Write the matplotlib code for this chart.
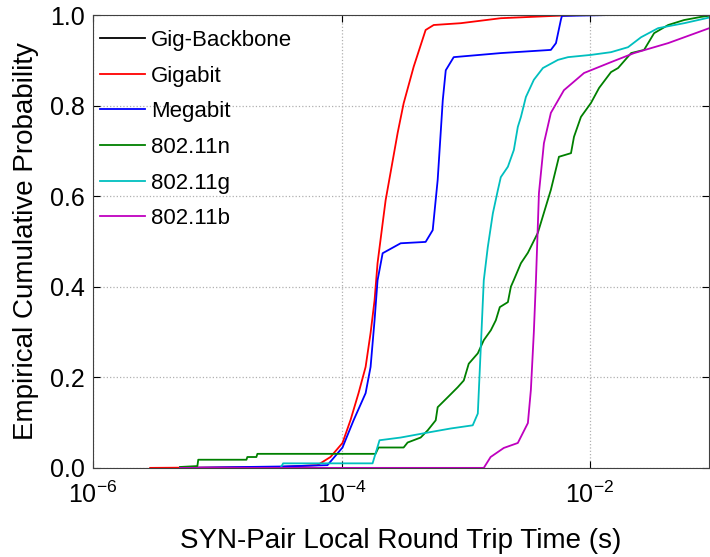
import matplotlib.pyplot as plt
import numpy as np

plt.rcParams['font.family'] = ['Liberation Sans', 'DejaVu Sans']
plt.rcParams['mathtext.fontset'] = 'custom'
plt.rcParams['mathtext.rm'] = 'Liberation Sans'
plt.rcParams['mathtext.it'] = 'Liberation Sans'

# data: log10 of RTT (s) and cumulative probability
gig_bb_x = []
gig_bb_y = []

gigabit_x = [-5.54, -4.5, -4.194, -4.089, -3.992, -3.927, -3.863, -3.806, -3.766, -3.734,
             -3.710, -3.669, -3.645, -3.548, -3.500, -3.419, -3.323, -3.258, -3.04,
             -2.718, -2.3, -2.1]
gigabit_y = [0.0, 0.002, 0.006, 0.024, 0.055, 0.106, 0.165, 0.223, 0.298, 0.37,
             0.452, 0.54, 0.591, 0.74, 0.805, 0.886, 0.967, 0.978, 0.982,
             0.993, 0.998, 1.0]

megabit_x = [-5.30, -4.5, -4.113, -3.992, -3.903, -3.806, -3.766, -3.734, -3.71, -3.669,
             -3.524, -3.323, -3.266, -3.226, -3.185, -3.161, -3.097, -2.718, -2.315,
             -2.274, -2.234, -2.226, -1.85]
megabit_y = [0.0, 0.003, 0.006, 0.045, 0.105, 0.165, 0.223, 0.326, 0.414, 0.474,
             0.496, 0.499, 0.525, 0.636, 0.812, 0.878, 0.907, 0.916, 0.923,
             0.938, 0.99, 0.998, 1.0]

n_x = [-5.30, -5.16, -5.153, -4.765, -4.758, -4.685, -4.677, -3.726, -3.702, -3.50,
       -3.468, -3.363, -3.306, -3.242, -3.226, -3.145, -3.065, -3.016, -2.976, -2.903,
       -2.855, -2.798, -2.758, -2.726, -2.661, -2.637, -2.613, -2.556, -2.50, -2.42,
       -2.315, -2.25, -2.153, -2.129, -2.073, -1.992, -1.927, -1.831, -1.774, -1.669,
       -1.565, -1.484, -1.371, -1.242, -1.105, -1.0]
n_y = [0.002, 0.004, 0.018, 0.018, 0.024, 0.024, 0.031, 0.031, 0.045, 0.045,
       0.056, 0.067, 0.083, 0.105, 0.134, 0.156, 0.178, 0.193, 0.23, 0.253,
       0.282, 0.304, 0.326, 0.355, 0.366, 0.40, 0.415, 0.452, 0.475, 0.519,
       0.614, 0.687, 0.695, 0.731, 0.775, 0.806, 0.839, 0.874, 0.883, 0.916,
       0.923, 0.96, 0.978, 0.989, 0.996, 1.0]

g_x = [-4.49, -4.47, -3.75, -3.694, -3.524, -3.306, -3.121, -2.944, -2.903, -2.879,
       -2.855, -2.823, -2.782, -2.742, -2.718, -2.661, -2.613, -2.581, -2.556, -2.516,
       -2.452, -2.379, -2.258, -2.177, -1.992, -1.831, -1.694, -1.589, -1.452, -1.242,
       -1.0]
g_y = [0.0, 0.01, 0.01, 0.061, 0.067, 0.078, 0.087, 0.094, 0.12, 0.266,
       0.414, 0.487, 0.562, 0.613, 0.642, 0.665, 0.702, 0.753, 0.775, 0.819,
       0.857, 0.883, 0.901, 0.907, 0.912, 0.918, 0.929, 0.951, 0.971, 0.982,
       0.997]

b_x = [-5.3, -2.855, -2.80, -2.694, -2.581, -2.50, -2.476, -2.452, -2.435, -2.411,
       -2.371, -2.315, -2.21, -2.048, -1.831, -1.645, -1.371, -1.0]
b_y = [0.0, 0.0, 0.024, 0.044, 0.055, 0.099, 0.172, 0.3, 0.415, 0.607,
       0.717, 0.784, 0.834, 0.872, 0.896, 0.916, 0.938, 0.975]

fig = plt.figure(figsize=(7.1, 5.57), dpi=100)
ax = fig.add_axes([0.131, 0.160, 0.868, 0.813])

lw = 1.3
ax.plot(10**np.array(gig_bb_x), gig_bb_y, color='k', lw=lw, label='Gig-Backbone')
ax.plot(10**np.array(gigabit_x), gigabit_y, color='#ff0000', lw=lw, label='Gigabit')
ax.plot(10**np.array(megabit_x), megabit_y, color='#0000ff', lw=lw, label='Megabit')
ax.plot(10**np.array(n_x), n_y, color='#008000', lw=lw, label='802.11n')
ax.plot(10**np.array(g_x), g_y, color='#00bfbf', lw=lw, label='802.11g')
ax.plot(10**np.array(b_x), b_y, color='#bf00bf', lw=lw, label='802.11b')

ax.set_xscale('log')
ax.set_xlim(1e-6, 10**-1.04)
ax.set_ylim(0, 1)
ax.set_xticks([1e-6, 1e-4, 1e-2])
ax.xaxis.set_minor_locator(plt.NullLocator())
ax.set_yticks([0, 0.2, 0.4, 0.6, 0.8, 1.0])
ax.set_yticklabels(['0.0', '0.2', '0.4', '0.6', '0.8', '1.0'])
ax.tick_params(direction='in', labelsize=18, length=5, top=True, right=True)
ax.tick_params(axis='x', pad=10)
ax.tick_params(axis='y', pad=6)
ax.grid(True, color='#b0b0b0', linestyle=':', linewidth=0.9)
for s in ax.spines.values():
    s.set_color('#404040')

ax.set_xlabel('SYN-Pair Local Round Trip Time (s)', fontsize=20, labelpad=14)
ax.set_ylabel('Empirical Cumulative Probability', fontsize=20, labelpad=8)

ax.legend(loc='upper left', bbox_to_anchor=(0.0, 0.982), frameon=False, fontsize=16,
          handlelength=2.05, handletextpad=0.25, labelspacing=0.66,
          borderaxespad=0.0, borderpad=0.3)

plt.savefig('out.png')
